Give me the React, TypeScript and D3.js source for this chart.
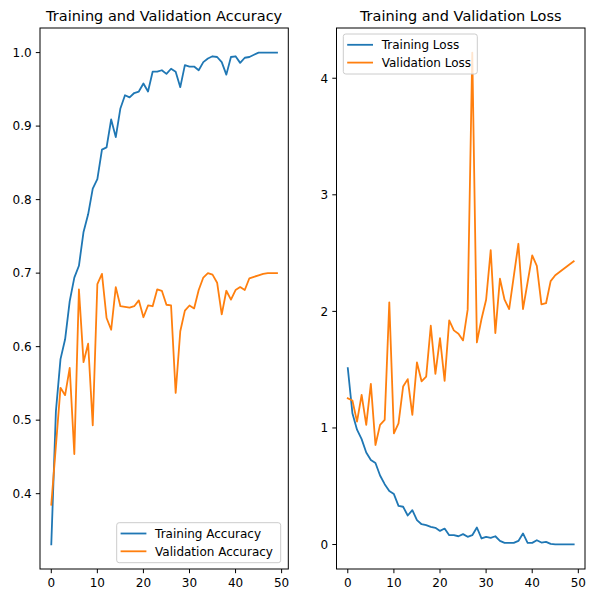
import React from 'react';
import * as d3 from 'd3';

const epochs = d3.range(50);

const trainAcc = [0.331, 0.512, 0.583, 0.610, 0.662, 0.694, 0.710, 0.756, 0.780, 0.815, 0.828, 0.868, 0.871, 0.909, 0.885, 0.924, 0.942, 0.939, 0.945, 0.947, 0.958, 0.947, 0.974, 0.974, 0.976, 0.971, 0.978, 0.974, 0.953, 0.983, 0.981, 0.981, 0.976, 0.987, 0.992, 0.995, 0.994, 0.987, 0.970, 0.994, 0.995, 0.986, 0.993, 0.994, 0.997, 1.0, 1.0, 1.0, 1.0, 1.0];
const valAcc = [0.385, 0.465, 0.544, 0.534, 0.571, 0.454, 0.678, 0.579, 0.604, 0.493, 0.685, 0.699, 0.639, 0.623, 0.681, 0.655, 0.654, 0.653, 0.655, 0.663, 0.640, 0.656, 0.655, 0.678, 0.676, 0.657, 0.656, 0.537, 0.621, 0.649, 0.656, 0.652, 0.677, 0.694, 0.700, 0.698, 0.687, 0.644, 0.676, 0.664, 0.677, 0.681, 0.677, 0.693, 0.695, 0.697, 0.699, 0.700, 0.700, 0.700];
const trainLoss = [1.513, 1.126, 0.985, 0.904, 0.789, 0.725, 0.699, 0.592, 0.518, 0.460, 0.433, 0.331, 0.324, 0.249, 0.295, 0.209, 0.174, 0.166, 0.152, 0.143, 0.117, 0.137, 0.080, 0.080, 0.071, 0.089, 0.066, 0.080, 0.146, 0.052, 0.066, 0.057, 0.071, 0.031, 0.014, 0.014, 0.014, 0.031, 0.095, 0.014, 0.014, 0.037, 0.017, 0.023, 0.005, 0.001, 0.001, 0.001, 0.001, 0.001];
const valLoss = [1.255, 1.235, 1.054, 1.284, 1.026, 1.378, 0.854, 1.026, 1.069, 2.077, 0.954, 1.040, 1.355, 1.419, 1.112, 1.562, 1.400, 1.441, 1.877, 1.464, 1.771, 1.404, 1.923, 1.837, 1.808, 1.751, 2.015, 4.220, 1.734, 1.935, 2.100, 2.525, 1.814, 2.280, 2.100, 2.020, 2.300, 2.580, 2.020, 2.250, 2.480, 2.390, 2.060, 2.070, 2.260, 2.310, 2.340, 2.370, 2.400, 2.430];

const xTicks = [0, 10, 20, 30, 40, 50];
const accTicks = [0.4, 0.5, 0.6, 0.7, 0.8, 0.9, 1.0];
const lossTicks = [0, 1, 2, 3, 4];

const accTitle = 'Training and Validation Accuracy';
const lossTitle = 'Training and Validation Loss';
const accLabels = ['Training Accuracy', 'Validation Accuracy'];
const lossLabels = ['Training Loss', 'Validation Loss'];

const BLUE = '#1f77b4';
const ORANGE = '#ff7f0e';
const FONT = 'DejaVu Sans';

type PanelProps = {
  x0: number; x1: number; y0: number; y1: number;
  s1: number[]; s2: number[];
  title: string; yTicks: number[]; fmt: (v: number) => string;
  labels: string[]; legendBox: { x: number; y: number; w: number; h: number };
};

function Panel({ x0, x1, y0, y1, s1, s2, title, yTicks, fmt, labels, legendBox }: PanelProps) {
  const xs = d3.scaleLinear().domain([-2.45, 51.45]).range([x0, x1]);
  const all = s1.concat(s2);
  const lo = d3.min(all) as number;
  const hi = d3.max(all) as number;
  const pad = (hi - lo) * 0.05;
  const ys = d3.scaleLinear().domain([lo - pad, hi + pad]).range([y1, y0]);
  const line = d3.line<number>().x((_, i) => xs(epochs[i])).y((d) => ys(d));
  const tl = 4.2;
  const lb = legendBox;
  const hx0 = lb.x + 4.8;
  const hx1 = hx0 + 24;
  const tx = hx1 + 9.6;
  const rows = [lb.y + 10.8, lb.y + 28.6];
  return (
    <g>
      <rect x={x0} y={y0} width={x1 - x0} height={y1 - y0} fill="#fff" />
      <path d={line(s1) || ''} fill="none" stroke={BLUE} strokeWidth={1.8} strokeLinejoin="round" strokeLinecap="square" />
      <path d={line(s2) || ''} fill="none" stroke={ORANGE} strokeWidth={1.8} strokeLinejoin="round" strokeLinecap="square" />
      <rect x={x0} y={y0} width={x1 - x0} height={y1 - y0} fill="none" stroke="#000" strokeWidth={1} />
      {xTicks.map((t) => (
        <g key={'x' + t}>
          <line x1={xs(t)} x2={xs(t)} y1={y1} y2={y1 + tl} stroke="#000" strokeWidth={1} />
          <text x={xs(t)} y={y1 + tl + 4.2 + 9.2} textAnchor="middle" fontSize={12} fontFamily={FONT} fill="#000">{t}</text>
        </g>
      ))}
      {yTicks.map((t) => (
        <g key={'y' + t}>
          <line x1={x0 - tl} x2={x0} y1={ys(t)} y2={ys(t)} stroke="#000" strokeWidth={1} />
          <text x={x0 - tl - 4.2} y={ys(t) + 4.3} textAnchor="end" fontSize={12} fontFamily={FONT} fill="#000">{fmt(t)}</text>
        </g>
      ))}
      <text x={(x0 + x1) / 2} y={y0 - 7.2} textAnchor="middle" fontSize={14.5} fontFamily={FONT} fill="#000">{title}</text>
      <rect x={lb.x} y={lb.y} width={lb.w} height={lb.h} rx={2.5} ry={2.5} fill="#fff" fillOpacity={0.8} stroke="#cccccc" strokeWidth={1} />
      {labels.map((lab, i) => (
        <g key={lab}>
          <line x1={hx0} x2={hx1} y1={rows[i]} y2={rows[i]} stroke={i === 0 ? BLUE : ORANGE} strokeWidth={1.8} strokeLinecap="square" />
          <text x={tx} y={rows[i] + 4.3} fontSize={12} fontFamily={FONT} fill="#000">{lab}</text>
        </g>
      ))}
    </g>
  );
}

export default function App() {
  const f1 = d3.format('.1f');
  const f0 = d3.format('d');
  return (
    <svg width={600} height={596} style={{ position: 'absolute', left: 0, top: 0, background: '#fff' }}>
      <rect x={0} y={0} width={600} height={596} fill="#fff" />
      <Panel x0={40} x1={288.3} y0={28} y1={569} s1={trainAcc} s2={valAcc}
        title={accTitle} yTicks={accTicks} fmt={f1} labels={accLabels}
        legendBox={{ x: 116.7, y: 522.7, w: 164, h: 40 }} />
      <Panel x0={336.5} x1={585} y0={28} y1={569} s1={trainLoss} s2={valLoss}
        title={lossTitle} yTicks={lossTicks} fmt={f0} labels={lossLabels}
        legendBox={{ x: 343.3, y: 34, w: 134, h: 40 }} />
    </svg>
  );
}
